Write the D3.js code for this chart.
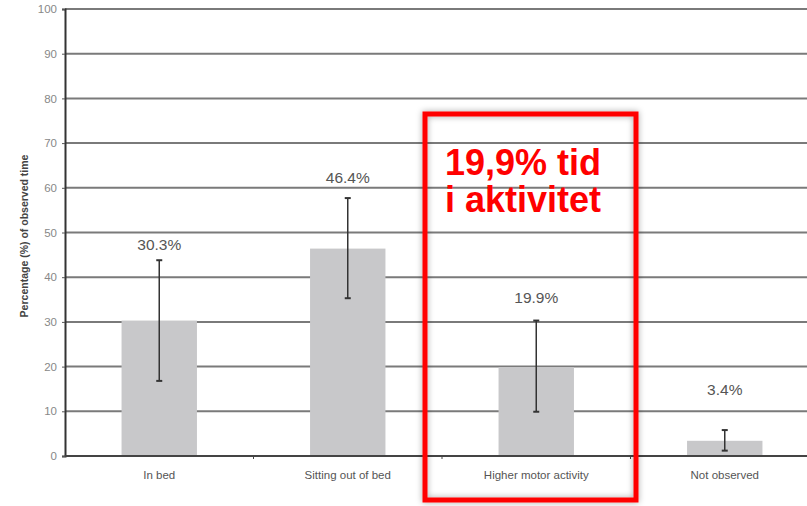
<!DOCTYPE html>
<html>
<head>
<meta charset="utf-8">
<style>
body {margin:0; background:#fff;}
svg text {font-family: "Liberation Sans", Arial, sans-serif;}
</style>
</head>
<body>
<div id="chart"></div>
<script src="https://d3js.org/d3.v7.min.js"></script>
<script>
// data
var categories = ["In bed", "Sitting out of bed", "Higher motor activity", "Not observed"];
var values = [30.3, 46.4, 19.9, 3.4];
var errLow = [16.8, 35.3, 9.9, 1.2];
var errHigh = [43.8, 57.7, 30.3, 5.8];
var yTicks = [0, 10, 20, 30, 40, 50, 60, 70, 80, 90, 100];
var noteLines = ["19,9% tid", "i aktivitet"];

var W = 807, H = 506;
var svg = d3.select("#chart").append("svg").attr("width", W).attr("height", H);

var x = d3.scaleBand().domain(categories).range([65, 819]);
var y = d3.scaleLinear().domain([0, 100]).range([456, 9]);

// gridlines behind bars
svg.append("g").selectAll("line")
    .data(yTicks.slice(1))
    .join("line")
    .attr("x1", 65).attr("x2", W)
    .attr("y1", d => y(d)).attr("y2", d => y(d))
    .attr("stroke", "#7a7a7a").attr("stroke-width", 2);

// y axis
var yAxis = svg.append("g").attr("transform", "translate(65,0)")
    .call(d3.axisLeft(y).tickValues(yTicks).tickSize(3).tickPadding(5));
yAxis.select(".domain").attr("stroke", "#333").attr("stroke-width", 2);
yAxis.selectAll(".tick line").attr("stroke", "#555");
yAxis.selectAll("text").attr("fill", "#888").attr("font-size", 11.5);

svg.append("text")
    .attr("transform", "translate(28,236) rotate(-90)")
    .attr("text-anchor", "middle")
    .attr("font-size", 10.5).attr("font-weight", "bold").attr("fill", "#444")
    .text("Percentage (%) of observed time");

// bars
var barW = x.bandwidth() * 0.4;
svg.append("g").selectAll("rect")
    .data(categories)
    .join("rect")
    .attr("x", d => x(d) + x.bandwidth() / 2 - barW / 2)
    .attr("width", barW)
    .attr("y", (d, i) => y(values[i]))
    .attr("height", (d, i) => y(0) - y(values[i]))
    .attr("fill", "#c8c8ca");

// x axis
var xAxis = svg.append("g").attr("transform", "translate(0,456)");
xAxis.append("line").attr("x1", 65).attr("x2", W).attr("stroke", "#444").attr("stroke-width", 2);
xAxis.selectAll("line.t")
    .data(categories.slice(1))
    .join("line").attr("class", "t")
    .attr("x1", d => x(d)).attr("x2", d => x(d))
    .attr("y1", 0).attr("y2", 3)
    .attr("stroke", "#444");
xAxis.selectAll("text")
    .data(categories)
    .join("text")
    .attr("x", d => x(d) + x.bandwidth() / 2)
    .attr("y", 23)
    .attr("text-anchor", "middle")
    .attr("font-size", 11.5).attr("fill", "#555")
    .text(d => d);

// error bars
var eb = svg.append("g").selectAll("g")
    .data(categories)
    .join("g")
    .attr("transform", d => "translate(" + (x(d) + x.bandwidth() / 2) + ",0)");
eb.append("line")
    .attr("y1", (d, i) => y(errLow[i])).attr("y2", (d, i) => y(errHigh[i]))
    .attr("stroke", "#333").attr("stroke-width", 1.5);
eb.append("line")
    .attr("x1", -3).attr("x2", 3)
    .attr("y1", (d, i) => y(errLow[i])).attr("y2", (d, i) => y(errLow[i]))
    .attr("stroke", "#333").attr("stroke-width", 2);
eb.append("line")
    .attr("x1", -3).attr("x2", 3)
    .attr("y1", (d, i) => y(errHigh[i])).attr("y2", (d, i) => y(errHigh[i]))
    .attr("stroke", "#333").attr("stroke-width", 2);

// value labels, sitting between the error bar top and a fixed gap above the bar
svg.append("g").selectAll("text")
    .data(categories)
    .join("text")
    .attr("x", d => x(d) + x.bandwidth() / 2)
    .attr("y", (d, i) => ((y(errHigh[i]) - 10) + y(values[i] + 16)) / 2)
    .attr("text-anchor", "middle")
    .attr("font-size", 15.5).attr("fill", "#555")
    .text((d, i) => values[i].toFixed(1) + "%");

// red highlight box
var defs = svg.append("defs");
var f = defs.append("filter").attr("id", "shadow")
    .attr("x", "-10%").attr("y", "-10%").attr("width", "120%").attr("height", "120%");
f.append("feDropShadow").attr("dx", 0).attr("dy", 0).attr("stdDeviation", 3)
    .attr("flood-color", "#000").attr("flood-opacity", 0.35);

svg.append("rect")
    .attr("x", 425).attr("y", 114)
    .attr("width", 211).attr("height", 386)
    .attr("fill", "none")
    .attr("stroke", "#ff0000").attr("stroke-width", 5)
    .attr("filter", "url(#shadow)");

svg.append("g").selectAll("text")
    .data(noteLines)
    .join("text")
    .attr("x", 445)
    .attr("y", (d, i) => 175 + i * 37)
    .attr("font-size", 36).attr("font-weight", "bold").attr("fill", "#ff0000")
    .text(d => d);
</script>
</body>
</html>
